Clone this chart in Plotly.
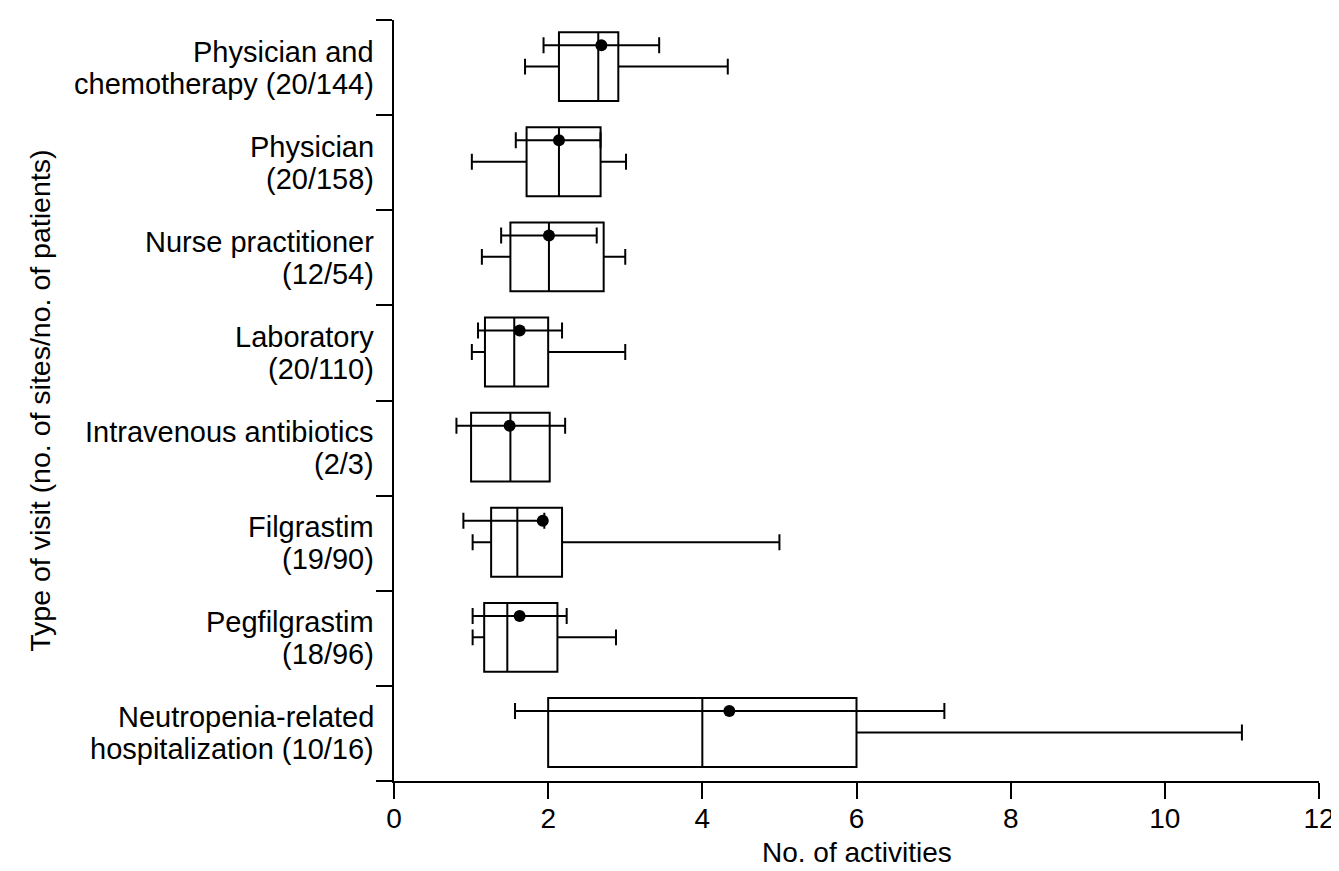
import plotly.graph_objects as go

# ---- data ----
label_line1 = ["Physician and", "Physician", "Nurse practitioner", "Laboratory",
               "Intravenous antibiotics", "Filgrastim", "Pegfilgrastim", "Neutropenia-related"]
label_line2 = ["chemotherapy (20/144)", "(20/158)", "(12/54)", "(20/110)",
               "(2/3)", "(19/90)", "(18/96)", "hospitalization (10/16)"]

box_low = [1.70, 1.01, 1.14, 1.01, 1.00, 1.02, 1.02, 2.00]
box_q1 = [2.14, 1.72, 1.51, 1.18, 1.00, 1.26, 1.17, 2.00]
box_median = [2.65, 2.14, 2.01, 1.56, 1.51, 1.60, 1.47, 4.00]
box_q3 = [2.91, 2.68, 2.72, 2.00, 2.02, 2.18, 2.12, 6.00]
box_high = [4.33, 3.01, 3.00, 3.00, 2.02, 5.00, 2.88, 11.00]

mean_value = [2.69, 2.14, 2.01, 1.63, 1.50, 1.93, 1.63, 4.35]
mean_lower = [1.94, 1.58, 1.39, 1.09, 0.81, 0.90, 1.02, 1.57]
mean_upper = [3.44, 2.68, 2.63, 2.18, 2.22, 1.95, 2.24, 7.14]

x_ticks = [0, 2, 4, 6, 8, 10, 12]

n = len(label_line1)
FONT = "Liberation Sans, Arial, sans-serif"
LW = 2

# band k (0 = top) occupies [n-k-1, n-k]
box_pos = [n - k - 0.49 for k in range(n)]
mean_pos = [n - k - 0.265 for k in range(n)]
band_center = [n - k - 0.5 for k in range(n)]

fig = go.Figure()

fig.add_trace(go.Box(
    orientation="h",
    y=box_pos,
    q1=box_q1, median=box_median, q3=box_q3,
    lowerfence=box_low, upperfence=box_high,
    width=0.725, whiskerwidth=0.23,
    boxpoints=False,
    fillcolor="rgba(0,0,0,0)",
    line=dict(color="black", width=LW),
    hoverinfo="skip",
    showlegend=False,
))

fig.add_trace(go.Scatter(
    x=mean_value, y=mean_pos, mode="markers",
    marker=dict(color="black", size=12),
    error_x=dict(type="data", symmetric=False,
                 array=[u - m for u, m in zip(mean_upper, mean_value)],
                 arrayminus=[m - l for m, l in zip(mean_value, mean_lower)],
                 color="black", thickness=LW, width=8),
    showlegend=False, hoverinfo="skip",
))

annotations = []
for k in range(n):
    annotations.append(dict(x=0, xref="paper", y=band_center[k], yref="y",
                            text=label_line1[k], showarrow=False,
                            xanchor="right", yanchor="middle", xshift=-18, yshift=16,
                            font=dict(family=FONT, size=29, color="black")))
    annotations.append(dict(x=0, xref="paper", y=band_center[k], yref="y",
                            text=label_line2[k], showarrow=False,
                            xanchor="right", yanchor="middle", xshift=-18, yshift=-16,
                            font=dict(family=FONT, size=29, color="black")))

annotations.append(dict(x=-0.3835, xref="paper", y=0.5, yref="paper",
                        text="Type of visit (no. of sites/no. of patients)",
                        textangle=-90, showarrow=False,
                        xanchor="center", yanchor="middle",
                        font=dict(family=FONT, size=28.5, color="black")))
annotations.append(dict(x=0.5, xref="paper", y=-0.0946, yref="paper",
                        text="No. of activities", showarrow=False,
                        xanchor="center", yanchor="middle",
                        font=dict(family=FONT, size=28, color="black")))

fig.update_layout(
    width=1339, height=871, autosize=False,
    margin=dict(l=386, r=17, t=12, b=98),
    paper_bgcolor="white", plot_bgcolor="white",
    font=dict(family=FONT, size=28, color="black"),
    boxmode="overlay",
    annotations=annotations,
    xaxis=dict(range=[0, 12], tickvals=x_ticks, ticktext=[str(t) for t in x_ticks],
               ticks="outside", ticklen=16, tickwidth=LW, tickcolor="black",
               ticklabelstandoff=-5,
               showline=True, linecolor="black", linewidth=LW,
               showgrid=False, zeroline=False,
               tickfont=dict(family=FONT, size=28, color="black")),
    yaxis=dict(range=[0, n], tickvals=list(range(n + 1)),
               ticks="outside", ticklen=16, tickwidth=LW, tickcolor="black",
               showticklabels=False,
               showline=True, linecolor="black", linewidth=LW,
               showgrid=False, zeroline=False),
)

fig.write_html("out.html")
